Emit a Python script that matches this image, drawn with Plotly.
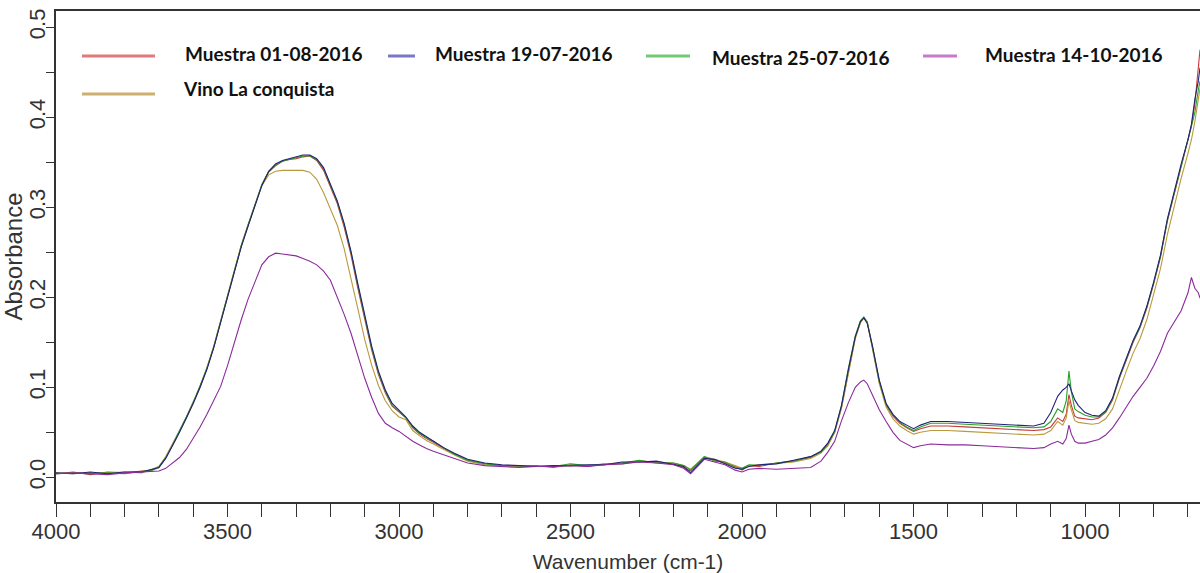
import plotly.graph_objects as go

WN = [4000, 3950, 3900, 3850, 3800, 3750, 3720, 3700, 3680, 3660,
      3640, 3620, 3600, 3580, 3560, 3540, 3520, 3500, 3480, 3460,
      3440, 3420, 3400, 3380, 3360, 3340, 3320, 3300, 3280, 3260,
      3240, 3220, 3200, 3180, 3160, 3140, 3120, 3100, 3080, 3060,
      3040, 3020, 3000, 2980, 2960, 2940, 2920, 2900, 2870, 2840,
      2800, 2750, 2700, 2650, 2600, 2550, 2500, 2450, 2400, 2350,
      2300, 2250, 2200, 2170, 2150, 2130, 2110, 2080, 2050, 2020,
      2000, 1980, 1950, 1900, 1850, 1800, 1770, 1750, 1730, 1710,
      1690, 1670, 1655, 1645, 1635, 1620, 1600, 1580, 1560, 1540,
      1520, 1500, 1480, 1450, 1400, 1350, 1300, 1250, 1200, 1150,
      1120, 1100, 1080, 1065, 1055, 1047, 1040, 1030, 1020, 1000,
      980, 960, 940, 920, 900, 880, 860, 840, 820, 800,
      780, 760, 740, 720, 700, 690, 680, 670, 665]

m_01_08 = [0.004, 0.006, 0.003, 0.006, 0.005, 0.007, 0.008, 0.012, 0.022, 0.036,
           0.051, 0.066, 0.083, 0.100, 0.121, 0.145, 0.173, 0.202, 0.230, 0.257,
           0.280, 0.303, 0.325, 0.339, 0.346, 0.351, 0.353, 0.354, 0.356, 0.357,
           0.352, 0.341, 0.322, 0.304, 0.278, 0.247, 0.210, 0.175, 0.142, 0.114,
           0.094, 0.079, 0.072, 0.066, 0.055, 0.048, 0.043, 0.039, 0.032, 0.026,
           0.019, 0.015, 0.013, 0.012, 0.013, 0.011, 0.014, 0.012, 0.015, 0.016,
           0.018, 0.017, 0.015, 0.011, 0.007, 0.015, 0.022, 0.019, 0.016, 0.012,
           0.008, 0.013, 0.012, 0.016, 0.018, 0.022, 0.028, 0.036, 0.050, 0.078,
           0.118, 0.155, 0.172, 0.177, 0.172, 0.145, 0.106, 0.080, 0.068, 0.060,
           0.055, 0.051, 0.054, 0.057, 0.057, 0.056, 0.055, 0.054, 0.053, 0.052,
           0.053, 0.056, 0.066, 0.062, 0.070, 0.092, 0.080, 0.068, 0.066, 0.065,
           0.064, 0.066, 0.072, 0.086, 0.110, 0.130, 0.150, 0.166, 0.188, 0.215,
           0.245, 0.285, 0.315, 0.345, 0.372, 0.390, 0.415, 0.455, 0.475]

m_19_07 = [0.005, 0.004, 0.006, 0.004, 0.006, 0.006, 0.009, 0.011, 0.021, 0.035,
           0.050, 0.066, 0.082, 0.100, 0.120, 0.144, 0.172, 0.201, 0.229, 0.256,
           0.279, 0.302, 0.324, 0.340, 0.348, 0.352, 0.354, 0.356, 0.358, 0.358,
           0.354, 0.344, 0.325, 0.307, 0.282, 0.251, 0.215, 0.180, 0.146, 0.118,
           0.097, 0.082, 0.074, 0.067, 0.057, 0.050, 0.045, 0.040, 0.033, 0.027,
           0.020, 0.016, 0.014, 0.013, 0.012, 0.013, 0.013, 0.014, 0.014, 0.017,
           0.017, 0.018, 0.014, 0.012, 0.005, 0.013, 0.021, 0.020, 0.015, 0.010,
           0.009, 0.012, 0.014, 0.015, 0.019, 0.023, 0.029, 0.038, 0.052, 0.080,
           0.120, 0.156, 0.173, 0.177, 0.171, 0.146, 0.108, 0.082, 0.070, 0.062,
           0.058, 0.054, 0.058, 0.062, 0.062, 0.061, 0.060, 0.059, 0.058, 0.057,
           0.060, 0.072, 0.090, 0.097, 0.100, 0.104, 0.096, 0.086, 0.080, 0.072,
           0.069, 0.068, 0.074, 0.088, 0.112, 0.132, 0.152, 0.168, 0.190, 0.217,
           0.247, 0.287, 0.318, 0.348, 0.375, 0.392, 0.420, 0.440, 0.455]

m_25_07 = [0.004, 0.005, 0.004, 0.005, 0.004, 0.007, 0.008, 0.011, 0.022, 0.036,
           0.051, 0.067, 0.083, 0.101, 0.121, 0.145, 0.173, 0.202, 0.230, 0.257,
           0.280, 0.303, 0.325, 0.340, 0.347, 0.351, 0.353, 0.355, 0.357, 0.357,
           0.353, 0.343, 0.324, 0.306, 0.281, 0.250, 0.213, 0.178, 0.144, 0.116,
           0.096, 0.080, 0.073, 0.066, 0.056, 0.049, 0.044, 0.040, 0.033, 0.026,
           0.019, 0.015, 0.013, 0.013, 0.012, 0.012, 0.015, 0.013, 0.014, 0.016,
           0.019, 0.016, 0.016, 0.013, 0.008, 0.016, 0.023, 0.018, 0.017, 0.011,
           0.010, 0.014, 0.013, 0.016, 0.018, 0.023, 0.028, 0.037, 0.051, 0.080,
           0.121, 0.157, 0.174, 0.178, 0.172, 0.146, 0.107, 0.081, 0.069, 0.061,
           0.056, 0.052, 0.056, 0.060, 0.060, 0.059, 0.058, 0.057, 0.056, 0.055,
           0.056, 0.062, 0.076, 0.072, 0.085, 0.118, 0.095, 0.076, 0.073, 0.069,
           0.067, 0.067, 0.073, 0.087, 0.111, 0.131, 0.151, 0.167, 0.189, 0.216,
           0.246, 0.286, 0.316, 0.346, 0.373, 0.388, 0.405, 0.430, 0.440]

m_14_10 = [0.004, 0.005, 0.004, 0.003, 0.005, 0.006, 0.006, 0.007, 0.010, 0.016,
           0.022, 0.031, 0.043, 0.056, 0.070, 0.085, 0.101, 0.124, 0.150, 0.175,
           0.198, 0.218, 0.236, 0.245, 0.249, 0.248, 0.247, 0.246, 0.243, 0.240,
           0.236, 0.229, 0.219, 0.201, 0.181, 0.160, 0.134, 0.110, 0.089, 0.071,
           0.060, 0.055, 0.051, 0.045, 0.040, 0.036, 0.032, 0.029, 0.025, 0.021,
           0.016, 0.013, 0.012, 0.011, 0.012, 0.012, 0.013, 0.012, 0.014, 0.015,
           0.017, 0.016, 0.014, 0.010, 0.004, 0.012, 0.020, 0.017, 0.014, 0.008,
           0.006, 0.009, 0.010, 0.009, 0.010, 0.011, 0.018, 0.028, 0.040, 0.063,
           0.083, 0.100, 0.106, 0.108, 0.104, 0.092, 0.075, 0.062, 0.050, 0.041,
           0.037, 0.033, 0.035, 0.037, 0.036, 0.036, 0.035, 0.034, 0.033, 0.032,
           0.033, 0.037, 0.040, 0.037, 0.043, 0.058, 0.048, 0.040, 0.038, 0.038,
           0.040, 0.042, 0.047, 0.055, 0.066, 0.078, 0.090, 0.100, 0.110, 0.124,
           0.140, 0.160, 0.172, 0.185, 0.205, 0.222, 0.210, 0.205, 0.199]

vino = [0.005, 0.004, 0.005, 0.005, 0.006, 0.005, 0.009, 0.012, 0.023, 0.037,
        0.052, 0.067, 0.084, 0.101, 0.122, 0.146, 0.174, 0.203, 0.231, 0.258,
        0.281, 0.303, 0.324, 0.336, 0.340, 0.341, 0.341, 0.341, 0.341, 0.339,
        0.331, 0.316, 0.298, 0.280, 0.254, 0.222, 0.187, 0.153, 0.125, 0.102,
        0.085, 0.074, 0.067, 0.064, 0.052, 0.046, 0.041, 0.037, 0.031, 0.025,
        0.018, 0.014, 0.013, 0.012, 0.012, 0.013, 0.013, 0.013, 0.015, 0.015,
        0.018, 0.017, 0.016, 0.013, 0.009, 0.016, 0.023, 0.020, 0.017, 0.013,
        0.010, 0.013, 0.014, 0.015, 0.017, 0.021, 0.027, 0.035, 0.050, 0.077,
        0.117, 0.154, 0.172, 0.178, 0.173, 0.144, 0.104, 0.078, 0.065, 0.057,
        0.052, 0.048, 0.050, 0.052, 0.052, 0.051, 0.050, 0.049, 0.048, 0.047,
        0.048, 0.052, 0.062, 0.058, 0.066, 0.085, 0.075, 0.063, 0.061, 0.060,
        0.059, 0.060, 0.065, 0.076, 0.098, 0.118, 0.138, 0.154, 0.175, 0.202,
        0.232, 0.270, 0.302, 0.332, 0.360, 0.375, 0.395, 0.420, 0.432]

for s in (m_01_08, m_19_07, m_25_07, m_14_10, vino):
    assert len(s) == len(WN), len(s)

series = [
    ("Muestra 01-08-2016", m_01_08, "#c83a3a", "#e07a7a"),
    ("Vino La conquista", vino, "#b89a3c", "#cdb070"),
    ("Muestra 25-07-2016", m_25_07, "#2aa02a", "#74c874"),
    ("Muestra 19-07-2016", m_19_07, "#22227a", "#7878c4"),
    ("Muestra 14-10-2016", m_14_10, "#8a2a9c", "#c87ac8"),
]

fig = go.Figure()
for name, vals, col, _ in series:
    fig.add_trace(go.Scatter(x=WN, y=vals, mode="lines", name=name,
                             line=dict(color=col, width=1.1), showlegend=False))

# plot area in pixels
L, T, R, B = 56, 11, 1200, 502
W, H = 1200, 573


def px(x):
    return (x - L) / (R - L)


def py(y):
    return (B - y) / (B - T)


legend_items = [
    # name, line x0, line x1, line y, text x, text y
    ("Muestra 01-08-2016", 82, 155, 56, 183, 53),
    ("Vino La conquista", 82, 155, 94, 181, 88),
    ("Muestra 19-07-2016", 388, 415, 56, 433, 53),
    ("Muestra 25-07-2016", 646, 690, 56, 710, 57),
    ("Muestra 14-10-2016", 923, 957, 56, 983, 55),
]
legend_col = {s[0]: s[3] for s in series}
for name, x0, x1, ly, tx, ty in legend_items:
    fig.add_shape(type="line", xref="paper", yref="paper",
                  x0=px(x0), x1=px(x1), y0=py(ly), y1=py(ly),
                  line=dict(color=legend_col[name], width=3))
    fig.add_annotation(xref="paper", yref="paper", x=px(tx), y=py(ty),
                       xanchor="left", yanchor="middle", showarrow=False,
                       text="<b>" + name + "</b>",
                       font=dict(family="Lato", size=19, color="#111111"))

x_ticks = list(range(4000, 650, -100))
x_text = [str(v) if v % 500 == 0 else "" for v in x_ticks]
y_ticks = [round(i * 0.05, 2) for i in range(0, 11)]
y_text = ["%.1f" % v if i % 2 == 0 else "" for i, v in enumerate(y_ticks)]

axis_col = "#333333"
fig.update_layout(
    width=W, height=H,
    margin=dict(l=L, r=W - R, t=T, b=H - B),
    paper_bgcolor="white", plot_bgcolor="white",
    xaxis=dict(range=[4000, 665], tickvals=x_ticks, ticktext=x_text,
               ticks="outside", ticklen=13, tickwidth=1.3, tickcolor=axis_col,
               ticklabelstandoff=-4,
               showline=True, linecolor=axis_col, linewidth=1.5, mirror=True,
               showgrid=False, zeroline=False,
               tickfont=dict(family="Liberation Sans", size=22, color="#333333"),
               title=dict(text="Wavenumber (cm-1)", standoff=12,
                          font=dict(family="Liberation Sans", size=21, color="#333333"))),
    yaxis=dict(range=[-0.0274, 0.518], tickvals=y_ticks, ticktext=y_text,
               ticks="outside", ticklen=8, tickwidth=1.3, tickcolor=axis_col,
               tickangle=-90, ticklabelstandoff=-8,
               showline=True, linecolor=axis_col, linewidth=1.5,
               showgrid=False, zeroline=False,
               tickfont=dict(family="Liberation Sans", size=22, color="#333333"),
               title=dict(text="Absorbance", standoff=0,
                          font=dict(family="Liberation Sans", size=24, color="#333333"))),
)

fig.write_html("out.html")
